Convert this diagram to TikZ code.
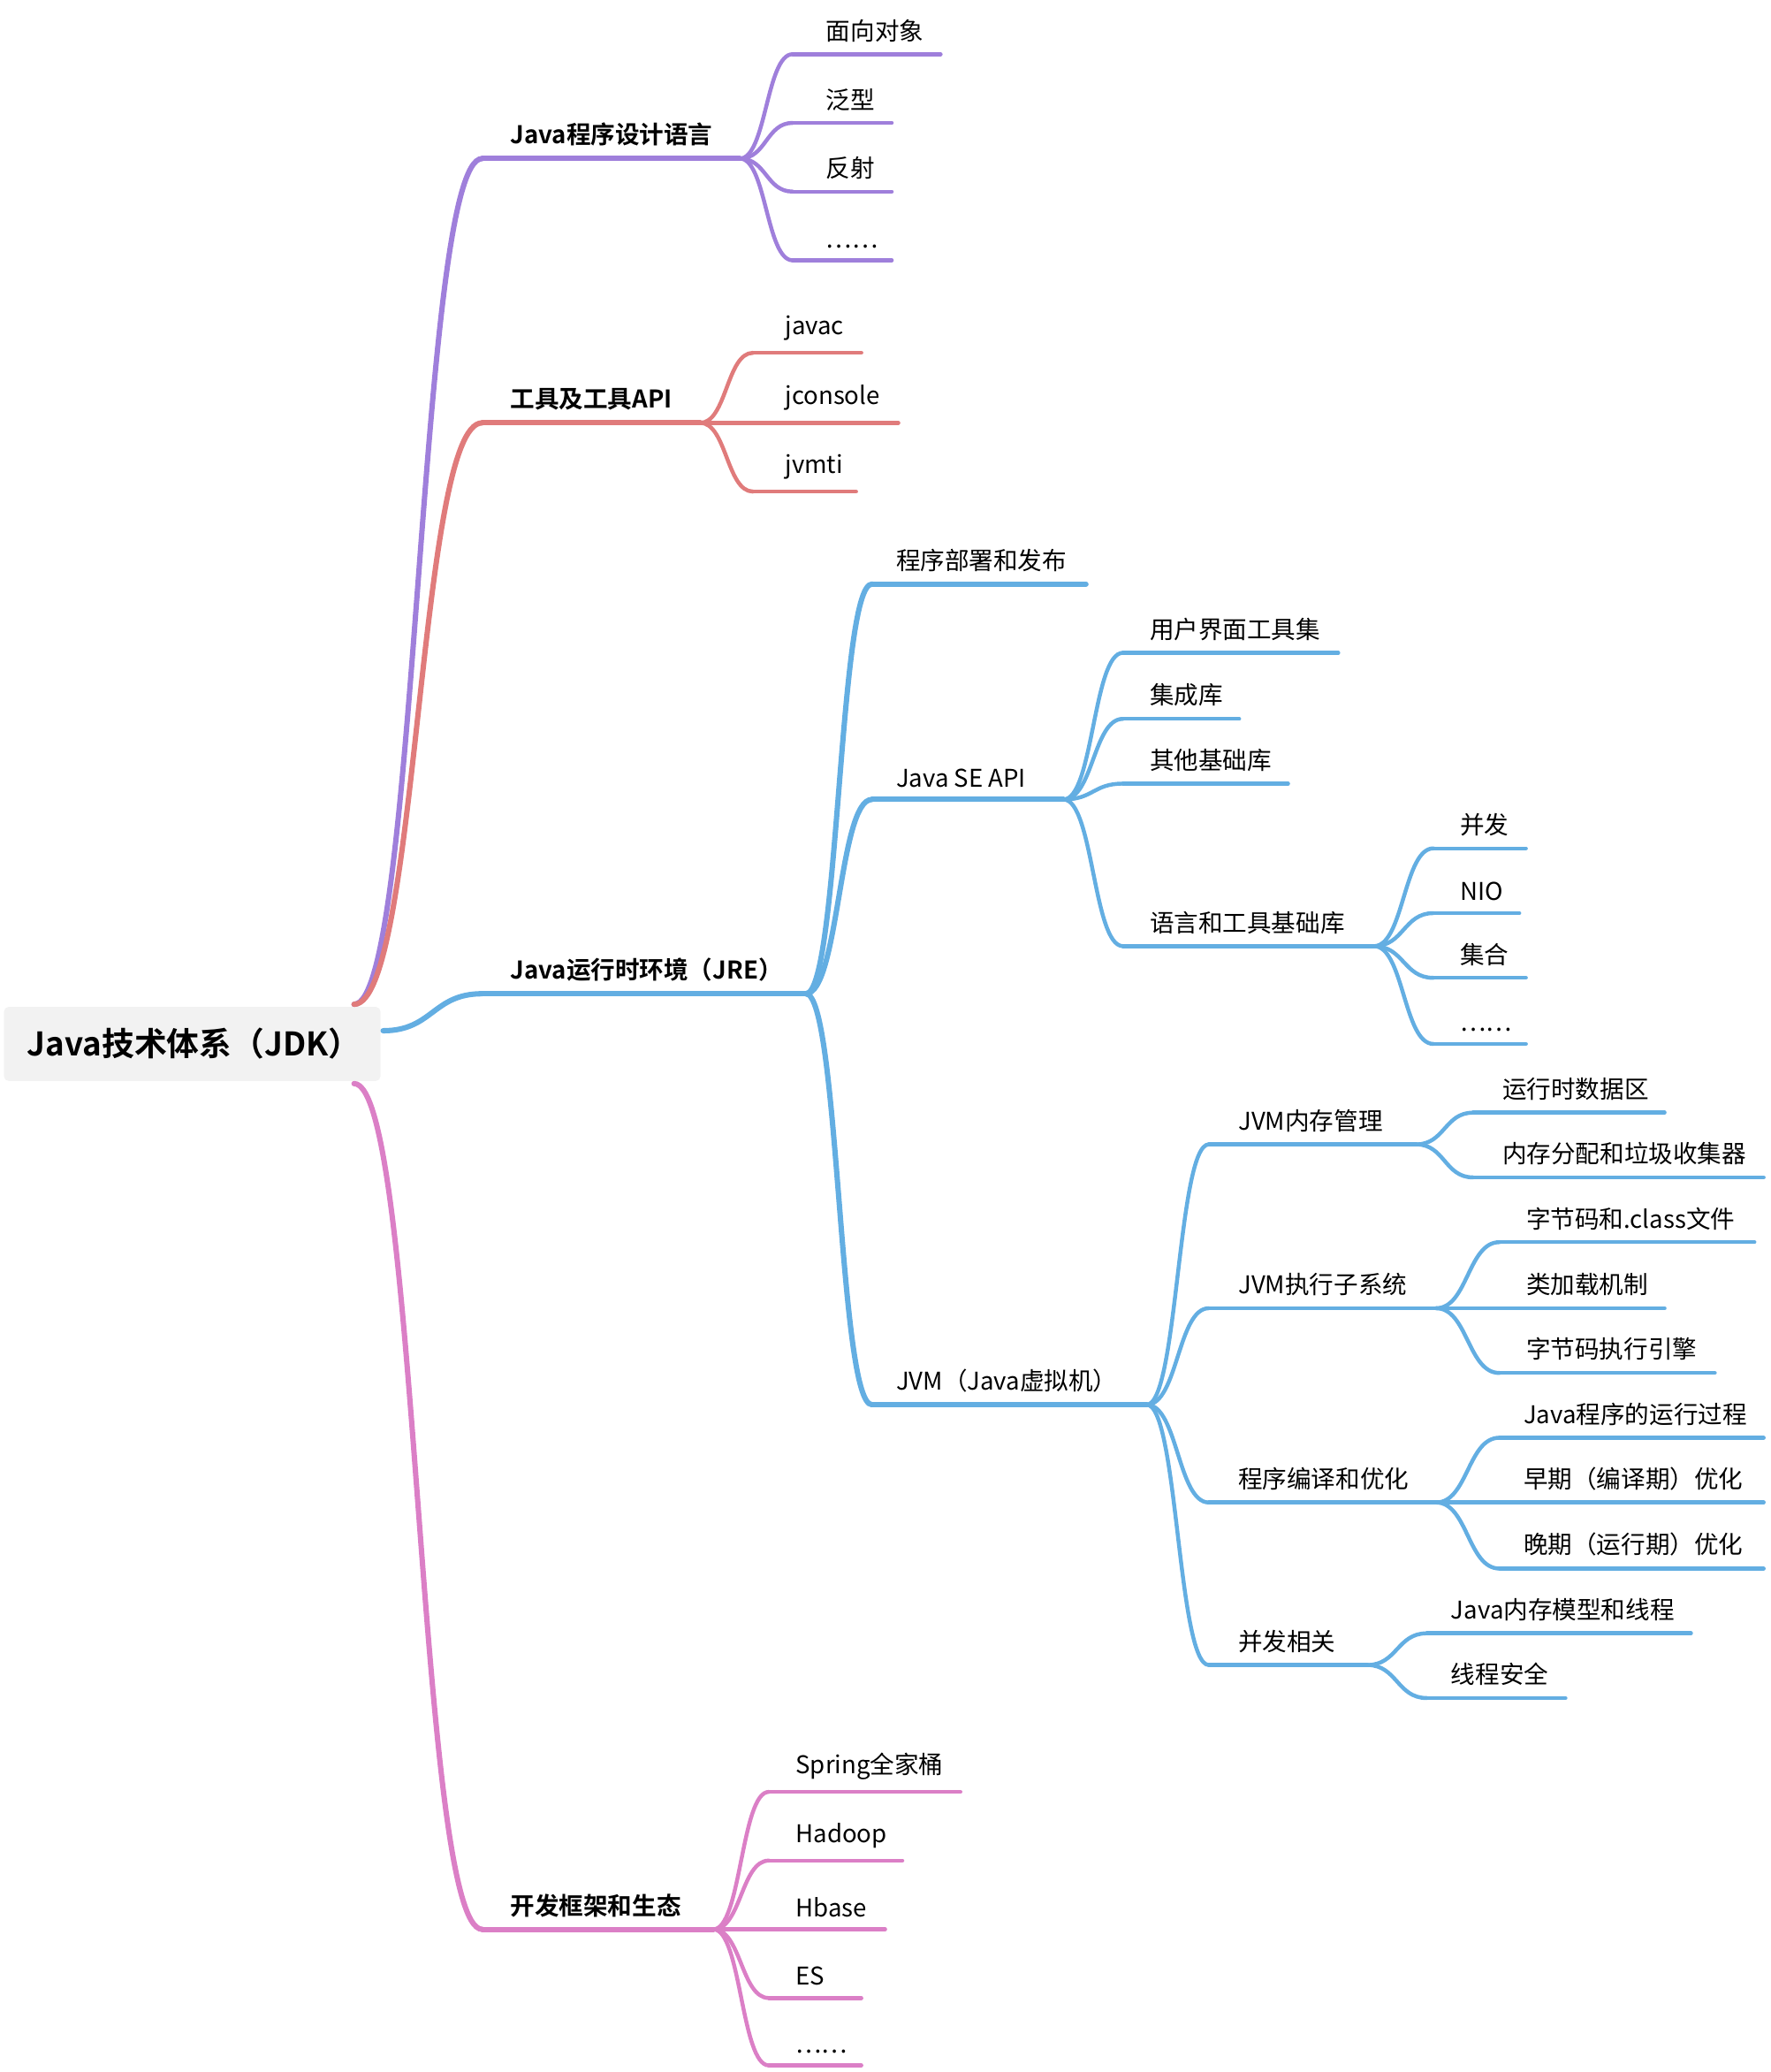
\documentclass[tikz,border=0pt]{standalone}
\usepackage{fontspec}
\setmainfont{Noto Sans CJK SC}[BoldFont={Noto Sans CJK SC Bold}]
\usetikzlibrary{positioning,calc}
\definecolor{lang}{HTML}{9F7FDB}
\definecolor{tool}{HTML}{E07B7B}
\definecolor{jre}{HTML}{63AEE2}
\definecolor{eco}{HTML}{DB7FC6}
\tikzset{
  topic/.style={line width=2.3pt,line cap=round},
  sub/.style={line width=1.7pt,line cap=round},
  label/.style={anchor=south west,inner sep=0pt,font=\fontsize{10.5}{12}\selectfont},
  main label/.style={label,font=\fontsize{10.5}{12}\selectfont\bfseries}
}
% \branch{name}{start x}{end x}{y}{text x}{text}{colour}{line style}{label style}
\newcommand{\branch}[9]{%
  \coordinate (#1S) at (#2,#4);
  \coordinate (#1E) at (#3,#4);
  \draw[#8,#7] (#1S) -- (#1E);
  \node[#9] (#1) at (#5,#4-9) {#6};
}
\newcommand{\link}[4]{\draw[#3,#4] (#1) .. controls ($(#1)!0.5!(#1-|#2S)$)
  and ($(#2S)!0.5!(#2S-|#1)$) .. (#2S);}
\begin{document}
\begin{tikzpicture}[x=0.02cm,y=-0.02cm]
\useasboundingbox (0,0) rectangle (1340,1568);

% root
\node[fill=black!5,rounded corners=2pt,minimum width=285*0.02cm,minimum height=56*0.02cm,
  text width=250*0.02cm,font=\fontsize{14}{16}\selectfont\bfseries] (root) at (145.5,790)
  {Java技术体系（JDK）};
\coordinate (rootUp) at (268,760);
\coordinate (rootR) at (290,780);
\coordinate (rootDn) at (268,820);

% first level
\branch{lang}{365}{560}{120}{386}{Java程序设计语言}{lang}{topic}{main label}
\branch{tool}{365}{530}{320}{386}{工具及工具API}{tool}{topic}{main label}
\branch{jre}{365}{610}{752}{386}{Java运行时环境（JRE）}{jre}{topic}{main label}
\branch{eco}{365}{540}{1460}{386}{开发框架和生态}{eco}{topic}{main label}
\link{rootUp}{lang}{lang}{topic}
\link{rootUp}{tool}{tool}{topic}
\link{rootR}{jre}{jre}{topic}
\link{rootDn}{eco}{eco}{topic}

% language
\branch{oo}{600}{712}{41}{625}{面向对象}{lang}{sub}{label}
\branch{gen}{600}{675}{93}{625}{泛型}{lang}{sub}{label}
\branch{refl}{600}{675}{145}{625}{反射}{lang}{sub}{label}
\branch{lmore}{600}{675}{197}{625}{……}{lang}{sub}{label}
\foreach \c in {oo,gen,refl,lmore} {\link{langE}{\c}{lang}{sub}}

% tools
\branch{javac}{570}{652}{267}{594}{javac}{tool}{sub}{label}
\branch{jcons}{570}{680}{320}{594}{jconsole}{tool}{sub}{label}
\branch{jvmti}{570}{648}{372}{594}{jvmti}{tool}{sub}{label}
\foreach \c in {javac,jcons,jvmti} {\link{toolE}{\c}{tool}{sub}}

% JRE
\branch{deploy}{660}{822}{442}{678}{程序部署和发布}{jre}{topic}{label}
\branch{seapi}{660}{805}{605}{678}{Java SE API}{jre}{topic}{label}
\branch{jvm}{660}{868}{1063}{678}{JVM（Java虚拟机）}{jre}{topic}{label}
\foreach \c in {deploy,seapi,jvm} {\link{jreE}{\c}{jre}{topic}}

\branch{ui}{850}{1013}{494}{870}{用户界面工具集}{jre}{sub}{label}
\branch{integ}{850}{938}{544}{870}{集成库}{jre}{sub}{label}
\branch{base}{850}{975}{593}{870}{其他基础库}{jre}{sub}{label}
\branch{langlib}{850}{1040}{716}{870}{语言和工具基础库}{jre}{sub}{label}
\foreach \c in {ui,integ,base,langlib} {\link{seapiE}{\c}{jre}{sub}}

\branch{conc}{1085}{1155}{642}{1105}{并发}{jre}{sub}{label}
\branch{nio}{1085}{1150}{691}{1105}{NIO}{jre}{sub}{label}
\branch{coll}{1085}{1155}{740}{1105}{集合}{jre}{sub}{label}
\branch{smore}{1085}{1155}{790}{1105}{……}{jre}{sub}{label}
\foreach \c in {conc,nio,coll,smore} {\link{langlibE}{\c}{jre}{sub}}

\branch{mem}{915}{1072}{866}{937}{JVM内存管理}{jre}{sub}{label}
\branch{exec}{915}{1087}{990}{937}{JVM执行子系统}{jre}{sub}{label}
\branch{comp}{915}{1087}{1137}{937}{程序编译和优化}{jre}{sub}{label}
\branch{jconc}{915}{1035}{1260}{937}{并发相关}{jre}{sub}{label}
\foreach \c in {mem,exec,comp,jconc} {\link{jvmE}{\c}{jre}{sub}}

\branch{rtdata}{1115}{1260}{842}{1137}{运行时数据区}{jre}{sub}{label}
\branch{gc}{1115}{1335}{891}{1137}{内存分配和垃圾收集器}{jre}{sub}{label}
\foreach \c in {rtdata,gc} {\link{memE}{\c}{jre}{sub}}

\branch{bytecode}{1135}{1328}{940}{1155}{字节码和.class文件}{jre}{sub}{label}
\branch{cload}{1135}{1260}{990}{1155}{类加载机制}{jre}{sub}{label}
\branch{engine}{1135}{1298}{1039}{1155}{字节码执行引擎}{jre}{sub}{label}
\foreach \c in {bytecode,cload,engine} {\link{execE}{\c}{jre}{sub}}

\branch{run}{1135}{1335}{1088}{1153}{Java程序的运行过程}{jre}{sub}{label}
\branch{early}{1135}{1335}{1137}{1153}{早期（编译期）优化}{jre}{sub}{label}
\branch{late}{1135}{1335}{1187}{1153}{晚期（运行期）优化}{jre}{sub}{label}
\foreach \c in {run,early,late} {\link{compE}{\c}{jre}{sub}}

\branch{jmm}{1080}{1280}{1236}{1098}{Java内存模型和线程}{jre}{sub}{label}
\branch{safe}{1080}{1185}{1285}{1098}{线程安全}{jre}{sub}{label}
\foreach \c in {jmm,safe} {\link{jconcE}{\c}{jre}{sub}}

% frameworks
\branch{spring}{582}{727}{1356}{602}{Spring全家桶}{eco}{sub}{label}
\branch{hadoop}{582}{683}{1408}{602}{Hadoop}{eco}{sub}{label}
\branch{hbase}{582}{670}{1460}{602}{Hbase}{eco}{sub}{label}
\branch{es}{582}{652}{1512}{602}{ES}{eco}{sub}{label}
\branch{emore}{582}{652}{1563}{602}{……}{eco}{sub}{label}
\foreach \c in {spring,hadoop,hbase,es,emore} {\link{ecoE}{\c}{eco}{sub}}
\end{tikzpicture}
\end{document}
